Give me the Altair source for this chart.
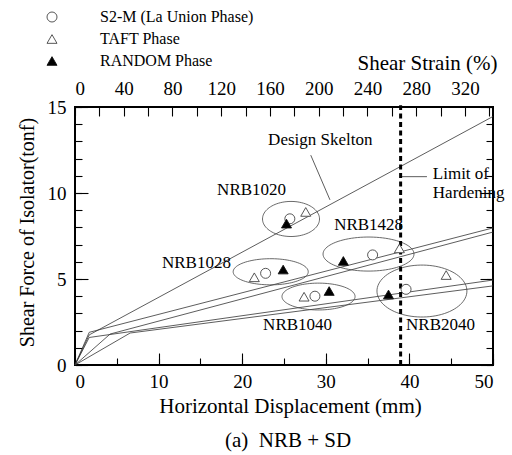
import altair as alt
import numpy as np
import pandas as pd

FONT = "Liberation Serif"
W, H = 418, 258
X_DOMAIN = [0, 50]
Y_DOMAIN = [0, 15]
S_DOMAIN = [0, 343]

# ---------------- data ----------------
# design skeleton lines (bilinear), vertices
line_id = ["A", "A", "A", "B1", "B1", "B1", "B2", "B2", "B2", "C1", "C1", "C1", "C2", "C2", "C2"]
line_k = [0, 1, 2] * 5
line_x = [0, 1.7, 50, 0, 1.7, 50, 0, 4.2, 50, 0, 1.7, 50, 0, 6.6, 50]
line_y = [0, 1.75, 14.45, 0, 1.9, 7.97, 0, 1.8, 7.73, 0, 1.6, 4.94, 0, 1.86, 4.6]

# test results
phases = ["S2-M (La Union Phase)", "TAFT Phase", "RANDOM Phase"]
pt_phase = [phases[0]] * 5 + [phases[1]] * 5 + [phases[2]] * 5
pt_x = [25.7, 22.8, 35.6, 28.7, 39.6,
        27.6, 21.45, 38.8, 27.4, 44.4,
        25.3, 24.9, 32.1, 30.4, 37.5]
pt_y = [8.5, 5.33, 6.4, 4.0, 4.4,
        8.9, 5.1, 6.78, 3.97, 5.23,
        8.22, 5.55, 6.05, 4.3, 4.1]

# ellipses around each isolator group (centre and semi-axes in data units)
ell_name = ["NRB1020", "NRB1028", "NRB1428", "NRB1040", "NRB2040"]
ell_cx = [25.84, 23.41, 35.11, 29.13, 41.5]
ell_cy = [8.49, 5.42, 6.45, 3.98, 4.3]
ell_rx = [3.41, 4.49, 5.44, 4.37, 5.38]
ell_ry = [1.02, 0.76, 0.99, 0.78, 1.51]

# annotations
lab_text = ["NRB1020", "NRB1028", "NRB1428", "NRB1040", "NRB2040",
            "Design Skelton", "Limit of", "Hardening"]
lab_x = [17.0, 10.4, 31.0, 22.5, 39.6, 23.1, 42.8, 42.8]
lab_y = [10.17, 5.93, 8.14, 2.33, 2.33, 13.1, 11.1, 10.0]

lead_id = ["design", "design", "limit", "limit"]
lead_x = [28.2, 30.5, 39.1, 42.1]
lead_y = [12.2, 9.6, 10.95, 10.95]

limit_x = [38.95]
limit_y0 = [0]
limit_y1 = [15.1]

x_label_values = [0, 10, 20, 30, 40, 50]
x_minor = [0, 5, 10, 15, 20, 25, 30, 35, 40, 45, 50]
y_label_values = [0, 5, 10, 15]
y_minor = list(range(0, 16))
s_label_values = [0, 40, 80, 120, 160, 200, 240, 280, 320]
s_minor = list(range(0, 341, 20))

# ---------------- helpers ----------------
def sc(domain):
    return alt.Scale(domain=domain, nice=False, zero=False)


def ticks_layer(ch, orient, values, size, domain):
    df = pd.DataFrame({"v": values})
    ax = alt.Axis(orient=orient, values=values, tickSize=size, offset=-size,
                  labels=False, domain=False, grid=False, title=None,
                  tickColor="black", tickWidth=1.1)
    if ch == "x":
        enc = dict(x=alt.X("v:Q", scale=sc(domain), axis=ax), y=alt.value(0))
    else:
        enc = dict(y=alt.Y("v:Q", scale=sc(domain), axis=ax), x=alt.value(0))
    return alt.Chart(df).mark_point(opacity=0).encode(**enc)


def XQ(f, axis=None):
    return alt.X(f, scale=sc(X_DOMAIN), axis=axis)


def YQ(f, axis=None):
    return alt.Y(f, scale=sc(Y_DOMAIN), axis=axis)


# ---------------- layers ----------------
lines_df = pd.DataFrame({"id": line_id, "k": line_k, "x": line_x, "y": line_y})
bottom_axis = alt.Axis(orient="bottom", values=x_label_values, ticks=False, tickSize=0,
                       domain=False, grid=False, labelFont=FONT, labelFontSize=19,
                       labelPadding=7, labelColor="black",
                       title="Horizontal Displacement (mm)", titleFont=FONT,
                       titleFontSize=21, titleFontWeight="normal", titleColor="black",
                       titleX=215, titleY=47, titleAlign="center", titleBaseline="alphabetic")
left_axis = alt.Axis(orient="left", values=y_label_values, ticks=False, tickSize=0,
                     domain=False, grid=False, labelFont=FONT, labelFontSize=19,
                     labelPadding=9, labelColor="black",
                     title="Shear Force of Isolator(tonf)", titleFont=FONT,
                     titleFontSize=20, titleFontWeight="normal", titleColor="black",
                     titleX=-48, titleY=125, titleAngle=-90, titleAlign="center",
                     titleBaseline="middle")
lines = alt.Chart(lines_df).mark_line(color="#333", strokeWidth=0.8).encode(
    x=XQ("x:Q", bottom_axis), y=YQ("y:Q", left_axis), detail="id:N", order="k:Q")

t = np.linspace(0, 2 * np.pi, 91)
ell_rows = []
for n, cx, cy, rx, ry in zip(ell_name, ell_cx, ell_cy, ell_rx, ell_ry):
    for i, a in enumerate(t):
        ell_rows.append({"g": n, "i": i, "x": cx + rx * np.cos(a), "y": cy + ry * np.sin(a)})
ell_df = pd.DataFrame(ell_rows)
ellipses = alt.Chart(ell_df).mark_line(color="#444", strokeWidth=0.8).encode(
    x=XQ("x:Q"), y=YQ("y:Q"), detail="g:N", order="i:Q")

lead_df = pd.DataFrame({"id": lead_id, "x": lead_x, "y": lead_y})
leaders = alt.Chart(lead_df).mark_line(color="#333", strokeWidth=0.8).encode(
    x=XQ("x:Q"), y=YQ("y:Q"), detail="id:N")

limit_df = pd.DataFrame({"x": limit_x, "y0": limit_y0, "y1": limit_y1})
limit = alt.Chart(limit_df).mark_rule(color="black", strokeWidth=3, strokeDash=[5, 3.5]).encode(
    x=XQ("x:Q"), y=YQ("y0:Q"), y2="y1:Q")

pts_df = pd.DataFrame({"phase": pt_phase, "x": pt_x, "y": pt_y})
leg = alt.Legend(title=None, orient="none", legendX=-31, legendY=-98, labelFont=FONT,
                 labelFontSize=16, labelColor="black", labelOffset=40, symbolSize=100,
                 rowPadding=6, padding=0, symbolStrokeWidth=0.9)
points = alt.Chart(pts_df).mark_point(filled=True, size=100, strokeWidth=0.9, opacity=1).encode(
    x=XQ("x:Q"), y=YQ("y:Q"),
    shape=alt.Shape("phase:N", sort=phases,
                    scale=alt.Scale(domain=phases, range=["circle", "triangle-up", "triangle-up"]),
                    legend=leg),
    fill=alt.Fill("phase:N", sort=phases,
                  scale=alt.Scale(domain=phases, range=["white", "white", "black"]),
                  legend=leg),
    stroke=alt.Stroke("phase:N", sort=phases,
                      scale=alt.Scale(domain=phases, range=["#444", "#444", "#111"]),
                      legend=leg))

lab_df = pd.DataFrame({"t": lab_text, "x": lab_x, "y": lab_y})
labels = alt.Chart(lab_df).mark_text(align="left", baseline="middle", font=FONT,
                                     fontSize=17, color="black").encode(
    x=XQ("x:Q"), y=YQ("y:Q"), text="t:N")

top_df = pd.DataFrame({"s": s_label_values})
top_axis = alt.Axis(orient="top", values=s_label_values, ticks=False, tickSize=0,
                    domain=False, grid=False, labelFont=FONT, labelFontSize=19,
                    labelPadding=9, labelColor="black",
                    title="Shear Strain (%)", titleFont=FONT, titleFontSize=21,
                    titleFontWeight="normal", titleColor="black",
                    titleX=W + 4, titleY=-38, titleAlign="right", titleBaseline="alphabetic")
top = alt.Chart(top_df).mark_point(opacity=0).encode(
    x=alt.X("s:Q", scale=sc(S_DOMAIN), axis=top_axis), y=alt.value(0))

layers = [
    lines, ellipses, leaders, limit, points, labels, top,
    ticks_layer("x", "bottom", x_minor, 7, X_DOMAIN),
    ticks_layer("x", "bottom", x_label_values, 12, X_DOMAIN),
    ticks_layer("y", "left", y_minor, 7, Y_DOMAIN),
    ticks_layer("y", "left", y_label_values, 13, Y_DOMAIN),
    ticks_layer("y", "right", y_minor, 7, Y_DOMAIN),
    ticks_layer("y", "right", y_label_values, 13, Y_DOMAIN),
    ticks_layer("x", "top", s_minor, 9, S_DOMAIN),
]

chart = alt.layer(*layers).resolve_scale(
    x="independent", y="independent"
).properties(
    width=W, height=H,
    autosize=alt.AutoSizeParams(type="none"),
    padding={"left": 75, "top": 107, "right": 19, "bottom": 90},
    title=alt.TitleParams("(a)\u00a0\u00a0NRB + SD", orient="bottom", font=FONT, fontSize=21,
                          fontWeight="normal", color="black", anchor="middle", offset=14,
                          dx=4),
    background="white",
).configure(
    font=FONT
).configure_axis(
    labelFont=FONT, titleFont=FONT
).configure_title(
    font=FONT
).configure_legend(
    labelFont=FONT
).configure_view(stroke="black", strokeWidth=2)

chart.save("out.html", embed_options={"renderer": "svg", "actions": False})
